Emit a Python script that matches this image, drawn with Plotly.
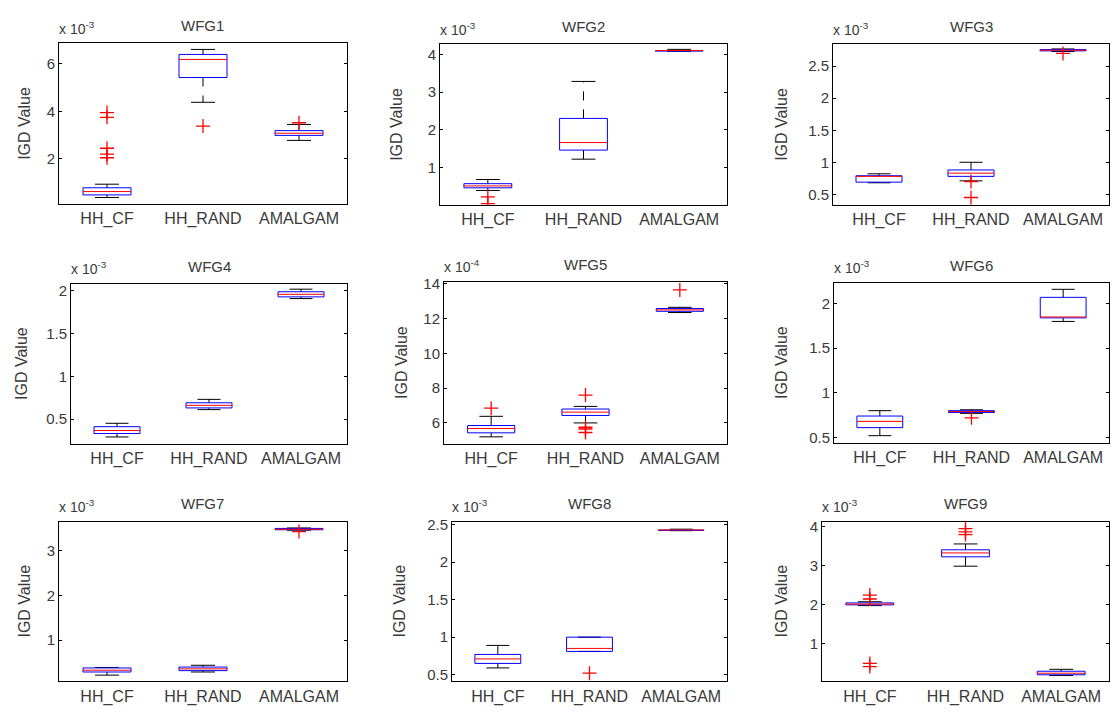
import plotly.graph_objects as go

# ---- data -------------------------------------------------------------
categories = ["HH_CF", "HH_RAND", "AMALGAM"]
panels = ["WFG1", "WFG2", "WFG3", "WFG4", "WFG5", "WFG6", "WFG7", "WFG8", "WFG9"]
exponents = [-3, -3, -3, -3, -4, -3, -3, -3, -3]

# box statistics per panel, one value per category (scaled by 10^exponent)
lower_whisker = [
    [0.38, 4.38, 2.78],
    [0.39, 1.22, 4.08],
    [0.68, 0.71, 2.73],
    [0.29, 0.61, 1.91],
    [5.20, 6.00, 12.35],
    [0.52, 0.77, 1.80],
    [0.22, 0.29, 3.45],
    [0.59, 0.81, 2.42],
    [1.98, 2.99, 0.19],
]
q1 = [
    [0.49, 5.42, 2.99],
    [0.46, 1.46, 4.09],
    [0.69, 0.78, 2.74],
    [0.33, 0.63, 1.93],
    [5.43, 6.43, 12.42],
    [0.61, 0.78, 1.84],
    [0.29, 0.32, 3.46],
    [0.65, 0.81, 2.425],
    [2.00, 3.23, 0.21],
]
median = [
    [0.63, 6.18, 3.08],
    [0.51, 1.66, 4.10],
    [0.78, 0.83, 2.75],
    [0.365, 0.66, 1.96],
    [5.68, 6.62, 12.50],
    [0.68, 0.79, 1.85],
    [0.33, 0.36, 3.47],
    [0.71, 0.85, 2.43],
    [2.02, 3.33, 0.25],
]
q3 = [
    [0.79, 6.39, 3.19],
    [0.57, 2.30, 4.11],
    [0.79, 0.88, 2.76],
    [0.41, 0.69, 1.99],
    [5.85, 6.80, 12.58],
    [0.74, 0.80, 2.07],
    [0.38, 0.40, 3.49],
    [0.77, 1.00, 2.435],
    [2.05, 3.41, 0.30],
]
upper_whisker = [
    [0.94, 6.60, 3.45],
    [0.68, 3.28, 4.13],
    [0.82, 1.00, 2.77],
    [0.45, 0.73, 2.02],
    [6.38, 6.95, 12.65],
    [0.80, 0.81, 2.16],
    [0.39, 0.44, 3.50],
    [0.89, 1.00, 2.44],
    [2.08, 3.56, 0.35],
]
outliers = [
    [[3.95, 3.75, 2.45, 2.20, 2.05], [3.38], [3.52]],
    [[0.22, 0.04], [], []],
    [[], [0.70, 0.45], [2.70]],
    [[], [], []],
    [[6.85], [7.60, 5.75, 5.65, 5.45], [13.65]],
    [[], [0.72], []],
    [[], [], [3.42]],
    [[], [0.52], []],
    [[2.25, 2.15, 0.50, 0.42], [3.95, 3.87, 3.80], []],
]
y_ranges = [
    [0.10, 6.85], [0.0, 4.26], [0.33, 2.84],
    [0.21, 2.08], [4.8, 14.1], [0.44, 2.23],
    [0.08, 3.64], [0.41, 2.54], [0.04, 4.13],
]
y_ticks = [
    ["2", "4", "6"],
    ["1", "2", "3", "4"],
    ["0.5", "1", "1.5", "2", "2.5"],
    ["0.5", "1", "1.5", "2"],
    ["6", "8", "10", "12", "14"],
    ["0.5", "1", "1.5", "2"],
    ["1", "2", "3"],
    ["0.5", "1", "1.5", "2", "2.5"],
    ["1", "2", "3", "4"],
]

# ---- layout geometry (pixels: left, right, top, bottom) ----------------
W, H = 1115, 713
axes_px = [
    (59, 347, 37, 200), (440, 727, 38, 201), (833, 1109, 38, 201),
    (71, 347, 281, 443), (444, 727, 279, 443), (834, 1109, 280, 442),
    (59, 347, 522, 684), (452, 727, 522, 684), (822, 1109, 522, 684),
]
ylabel_px = [25, 397, 782, 22, 402, 782, 25, 400, 782]

BOX_HALF = 0.25
CAP_HALF = 0.125
FONT = "Liberation Sans"
TXT = "#3a3a3a"


def fx(p):
    return p / W


def fy(p):
    return 1 - p / H


fig = go.Figure()
annotations = []

for i, name in enumerate(panels):
    n = "" if i == 0 else str(i + 1)
    xa, ya = "x" + n, "y" + n
    bx, by, mx, my, wx, wy, cx, cy, ox, oy = ([] for _ in range(10))
    for j in range(len(categories)):
        pos = j + 1
        lo, a, m, b, hi = (lower_whisker[i][j], q1[i][j], median[i][j],
                           q3[i][j], upper_whisker[i][j])
        # box outline
        bx += [pos - BOX_HALF, pos + BOX_HALF, pos + BOX_HALF, pos - BOX_HALF, pos - BOX_HALF, None]
        by += [a, a, b, b, a, None]
        # median
        mx += [pos - BOX_HALF, pos + BOX_HALF, None]
        my += [m, m, None]
        # whiskers
        wx += [pos, pos, None, pos, pos, None]
        wy += [b, hi, None, a, lo, None]
        # whisker caps
        cx += [pos - CAP_HALF, pos + CAP_HALF, None, pos - CAP_HALF, pos + CAP_HALF, None]
        cy += [hi, hi, None, lo, lo, None]
        # outliers
        ox += [pos] * len(outliers[i][j])
        oy += outliers[i][j]

    common = dict(xaxis=xa, yaxis=ya, showlegend=False, hoverinfo="skip")
    fig.add_trace(go.Scatter(x=wx, y=wy, mode="lines",
                             line=dict(color="black", width=1, dash="dash"), **common))
    fig.add_trace(go.Scatter(x=cx, y=cy, mode="lines",
                             line=dict(color="black", width=1), **common))
    fig.add_trace(go.Scatter(x=bx, y=by, mode="lines",
                             line=dict(color="#0000FF", width=1), **common))
    fig.add_trace(go.Scatter(x=mx, y=my, mode="lines",
                             line=dict(color="#FF0000", width=1), **common))
    fig.add_trace(go.Scatter(x=ox, y=oy, mode="markers",
                             marker=dict(symbol="cross-thin", size=10,
                                         line=dict(color="#FF0000", width=1.3)),
                             **common))

    l, r, t, btm = axes_px[i]
    tickvals = [float(s) for s in y_ticks[i]]
    fig.update_layout(**{
        "xaxis" + n: dict(
            domain=[fx(l), fx(r)], anchor=ya, range=[0.5, 3.5],
            tickmode="array", tickvals=[1, 2, 3], ticktext=categories,
            ticks="", showline=True, linecolor="black", linewidth=1,
            mirror=True, showgrid=False, zeroline=False,
            tickfont=dict(family=FONT, size=16, color=TXT),
        ),
        "yaxis" + n: dict(
            domain=[fy(btm), fy(t)], anchor=xa, range=y_ranges[i],
            tickmode="array", tickvals=tickvals, ticktext=y_ticks[i],
            ticks="inside", ticklen=3, tickcolor="black",
            showline=True, linecolor="black", linewidth=1,
            mirror="ticks", showgrid=False, zeroline=False,
            tickfont=dict(family=FONT, size=15, color=TXT),
        ),
    })

    # panel title
    annotations.append(dict(
        text=name, x=fx((l + r) / 2), y=fy(t - 18), xref="paper", yref="paper",
        xanchor="center", yanchor="middle", showarrow=False,
        font=dict(family=FONT, size=15, color=TXT)))
    # axis multiplier
    annotations.append(dict(
        text="x 10<sup>%d</sup>" % exponents[i], x=fx(l - 2), y=fy(t - 5),
        xref="paper", yref="paper", xanchor="left", yanchor="bottom",
        showarrow=False, font=dict(family=FONT, size=14, color=TXT)))
    # y-axis label
    annotations.append(dict(
        text="IGD Value", x=fx(ylabel_px[i]), y=fy((t + btm) / 2),
        xref="paper", yref="paper", xanchor="center", yanchor="middle",
        textangle=-90, showarrow=False,
        font=dict(family=FONT, size=16, color=TXT)))

fig.update_layout(
    width=W, height=H, margin=dict(l=0, r=0, t=0, b=0),
    paper_bgcolor="white", plot_bgcolor="white",
    annotations=annotations,
)

fig.write_html("out.html")
